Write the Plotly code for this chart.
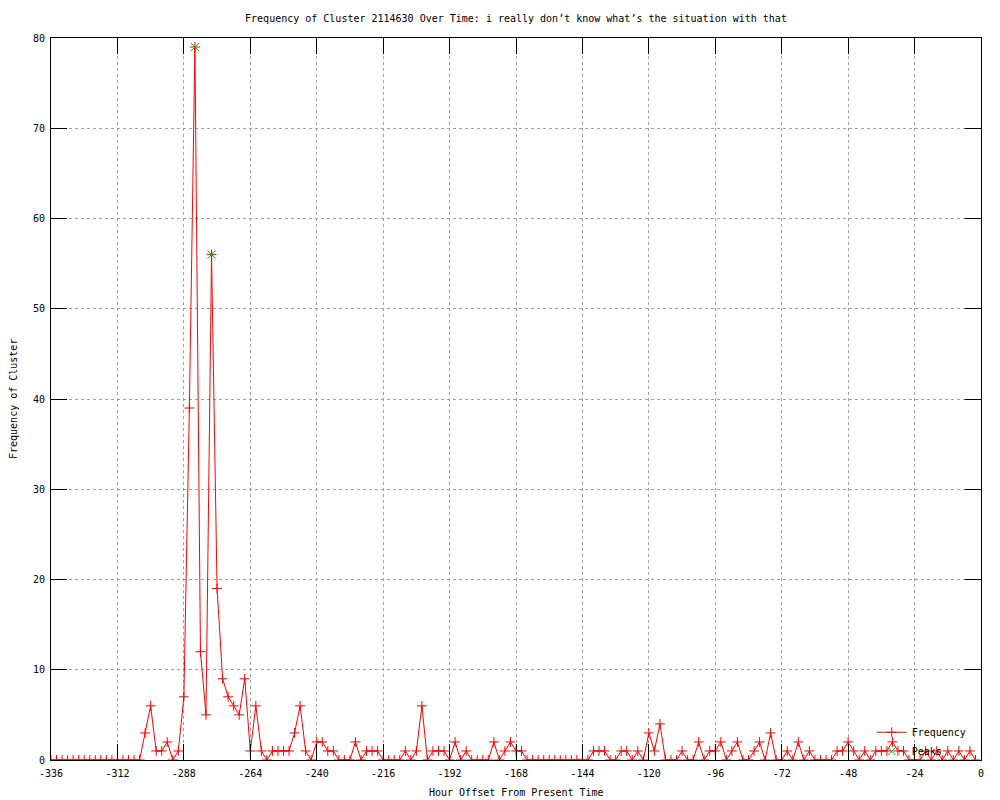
import plotly.graph_objects as go

FONT = "DejaVu Sans Mono"

# hour offsets, one sample every 2 hours
hours = list(range(-336, 0, 2))
frequency = [
    0, 0, 0, 0, 0, 0, 0, 0, 0, 0, 0, 0, 0, 0, 0, 0, 0, 3, 6, 1,
    1, 2, 0, 1, 7, 39, 79, 12, 5, 56, 19, 9, 7, 6, 5, 9, 1, 6, 1, 0,
    1, 1, 1, 1, 3, 6, 1, 0, 2, 2, 1, 1, 0, 0, 0, 2, 0, 1, 1, 1,
    0, 0, 0, 0, 1, 0, 1, 6, 0, 1, 1, 1, 0, 2, 0, 1, 0, 0, 0, 0,
    2, 0, 1, 2, 1, 1, 0, 0, 0, 0, 0, 0, 0, 0, 0, 0, 0, 0, 1, 1,
    1, 0, 0, 1, 1, 0, 1, 0, 3, 1, 4, 0, 0, 0, 1, 0, 0, 2, 0, 1,
    1, 2, 0, 1, 2, 0, 0, 1, 2, 0, 3, 0, 0, 1, 0, 2, 0, 1, 0, 0,
    0, 0, 1, 1, 2, 1, 0, 1, 0, 1, 1, 1, 2, 1, 1, 0, 0, 0, 1, 0,
    1, 0, 1, 0, 1, 0, 1, 0,
]

peak_hours = [-284, -278]
peak_values = [79, 56]

x_ticks = list(range(-336, 1, 24))
x_labels = [str(t) for t in x_ticks]
y_ticks = list(range(0, 81, 10))

fig = go.Figure()
fig.add_trace(go.Scatter(
    x=hours, y=frequency, name="Frequency", mode="lines+markers",
    line=dict(color="#ff0000", width=1),
    marker=dict(symbol="cross-thin", size=7, line=dict(color="#ff0000", width=1)),
))
fig.add_trace(go.Scatter(
    x=peak_hours, y=peak_values, name="Peaks", mode="markers",
    marker=dict(symbol="x-thin", size=8, line=dict(color="#00c000", width=1)),
))

axis_common = dict(
    showline=True, linecolor="black", linewidth=1, mirror="ticks",
    ticks="inside", ticklen=16, tickcolor="black", tickwidth=1,
    showgrid=True, gridcolor="#a0a0a0", griddash="dot", gridwidth=1,
    zeroline=False, tickfont=dict(family=FONT, size=10, color="black"),
)
fig.update_xaxes(range=[-336, 0], tickvals=x_ticks, ticktext=x_labels,
                 ticklabelstandoff=4, **axis_common)
fig.update_yaxes(range=[0, 80], tickvals=y_ticks, ticklabelstandoff=3, **axis_common)

# the page adds an 8px body margin, so the figure is 992x792 placed at (8, 8)
fig.update_layout(
    width=992, height=792, autosize=False,
    paper_bgcolor="white", plot_bgcolor="white",
    margin=dict(l=43, r=19, t=30, b=40),
    font=dict(family=FONT, size=10, color="black"),
    title=dict(
        text="Frequency of Cluster 2114630 Over Time: i really don’t know what’s the situation with that",
        x=0.5, xref="paper", y=1 - 10 / 792, yanchor="middle",
        font=dict(family=FONT, size=10, color="black"),
    ),
    legend=dict(
        x=0.99, y=-0.008, xanchor="right", yanchor="bottom",
        bgcolor="rgba(0,0,0,0)", font=dict(family=FONT, size=10),
        tracegroupgap=0, itemwidth=30,
    ),
    annotations=[
        dict(text="Hour Offset From Present Time", xref="paper", yref="paper",
             x=0.5, y=0, yanchor="top", yshift=-25, showarrow=False,
             font=dict(family=FONT, size=10)),
        dict(text="Frequency of Cluster", xref="paper", yref="paper",
             x=0, y=0.5, xanchor="center", xshift=-38, textangle=-90,
             showarrow=False, font=dict(family=FONT, size=10)),
    ],
)

fig.write_html("out.html")
